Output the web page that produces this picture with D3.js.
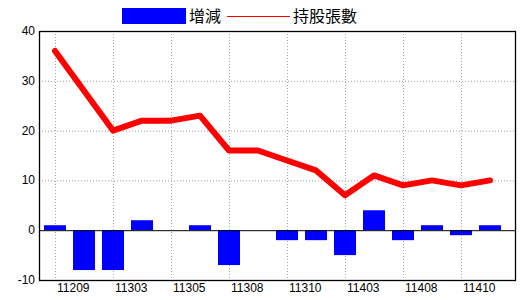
<!DOCTYPE html>
<html>
<head>
<meta charset="utf-8">
<script src="https://cdn.jsdelivr.net/npm/d3@7"></script>
<style>
  body { margin: 0; background: #fff; }
  text { font-family: "Liberation Sans", "Noto Sans CJK TC", sans-serif; }
</style>
</head>
<body>
<script>
// categories (ROC year+month), only every other one is labelled
var periods = ['11209','11212','11303','11304','11305','11307','11308','11309',
               '11310','11312','11403','11405','11408','11409','11410','11411'];
var change = [1, -8, -8, 2, 0, 1, -7, 0, -2, -2, -5, 4, -2, 1, -1, 1];
var holdings = [36, 28, 20, 22, 22, 23, 16, 16, 14, 12, 7, 11, 9, 10, 9, 10];
var yTicks = [-10, 0, 10, 20, 30, 40];

var W = 520, H = 300;
var margin = {top: 31, right: 4, bottom: 20, left: 39};

var svg = d3.select('body').append('svg')
  .attr('width', W)
  .attr('height', H);

// plot box edges (not "top": that name is taken by window.top)
var pLeft = margin.left, pRight = W - margin.right,
    pTop = margin.top, pBottom = H - margin.bottom;

//scales
var x = d3.scalePoint()
  .domain(periods)
  .range([pLeft + 16, pRight - 26]);

var y = d3.scaleLinear()
  .domain([-10, 40])
  .range([pBottom, pTop]);

// grid lines
svg.append('g')
  .selectAll('line')
  .data([10, 20, 30])
  .enter().append('line')
  .attr('x1', pLeft).attr('x2', pRight)
  .attr('y1', function(d) { return y(d) + 0.5; })
  .attr('y2', function(d) { return y(d) + 0.5; })
  .attr('stroke', '#999')
  .attr('stroke-dasharray', '1,2');

svg.append('g')
  .selectAll('line')
  .data(periods.filter(function(d, i) { return i % 2 == 0; }))
  .enter().append('line')
  .attr('x1', function(d) { return Math.round(x(d)) + 0.5; })
  .attr('x2', function(d) { return Math.round(x(d)) + 0.5; })
  .attr('y1', pTop).attr('y2', pBottom)
  .attr('stroke', '#9ab')
  .attr('stroke-dasharray', '1,2');

// bars
svg.append('g')
  .selectAll('rect')
  .data(change)
  .enter().append('rect')
  .attr('x', function(d, i) { return x(periods[i]) - 11; })
  .attr('y', function(d) { return y(Math.max(0, d)); })
  .attr('width', 22)
  .attr('height', function(d) { return Math.abs(y(d) - y(0)); })
  .attr('fill', '#0000ff');

// zero line
svg.append('line')
  .attr('x1', pLeft).attr('x2', pRight)
  .attr('y1', y(0) + 0.5).attr('y2', y(0) + 0.5)
  .attr('stroke', '#000');

// holdings line
var line = d3.line()
  .x(function(d, i) { return x(periods[i]); })
  .y(function(d) { return y(d); });

svg.append('path')
  .datum(holdings)
  .attr('d', line)
  .attr('fill', 'none')
  .attr('stroke', '#ff0000')
  .attr('stroke-width', 6)
  .attr('stroke-linejoin', 'round')
  .attr('stroke-linecap', 'round');

// frame
svg.append('rect')
  .attr('x', pLeft + 0.5).attr('y', pTop + 0.5)
  .attr('width', pRight - pLeft - 1).attr('height', pBottom - pTop)
  .attr('fill', 'none')
  .attr('stroke', '#000')
  .attr('stroke-width', 1.3);

// y labels
svg.append('g')
  .selectAll('text')
  .data(yTicks)
  .enter().append('text')
  .attr('x', pLeft - 4)
  .attr('y', function(d) { return y(d) + 4; })
  .attr('text-anchor', 'end')
  .attr('font-size', 12)
  .text(function(d) { return d; });

// x labels
svg.append('g')
  .selectAll('text')
  .data(periods.filter(function(d, i) { return i % 2 == 0; }))
  .enter().append('text')
  .attr('x', function(d) { return x(d) + 2; })
  .attr('y', pBottom + 12)
  .attr('font-size', 12)
  .text(function(d) { return d; });

// legend
var legend = svg.append('g');
legend.append('rect')
  .attr('x', 122).attr('y', 8)
  .attr('width', 64).attr('height', 16)
  .attr('fill', '#0000ff');
legend.append('text')
  .attr('x', 189).attr('y', 22)
  .attr('font-size', 16)
  .text('增減');
legend.append('line')
  .attr('x1', 227).attr('x2', 290)
  .attr('y1', 16.5).attr('y2', 16.5)
  .attr('stroke', '#ff0000');
legend.append('text')
  .attr('x', 293).attr('y', 22)
  .attr('font-size', 16)
  .text('持股張數');
</script>
</body>
</html>
